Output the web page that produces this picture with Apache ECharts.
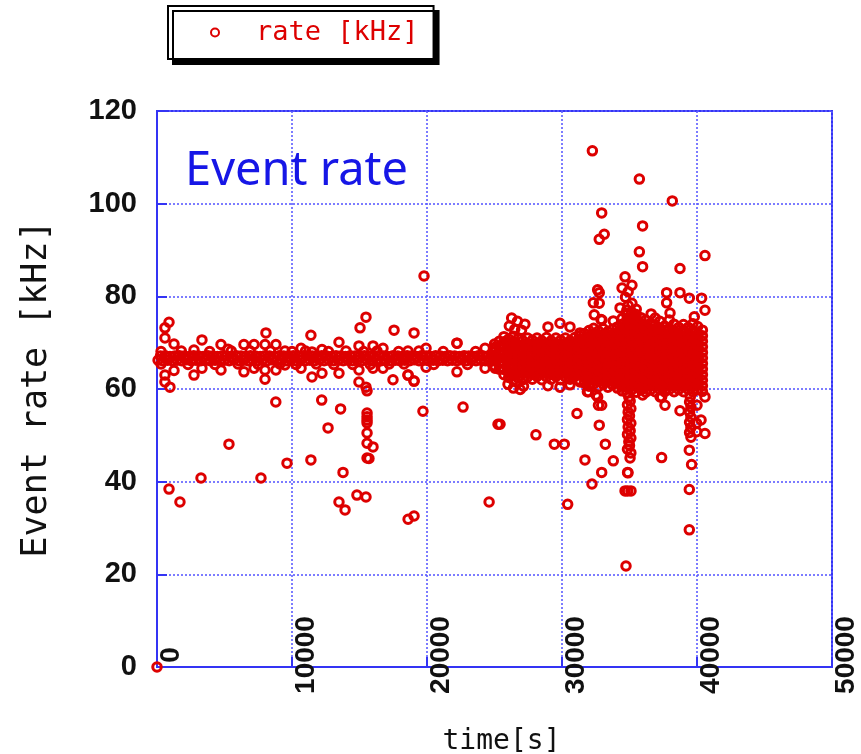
<!DOCTYPE html>
<html>
<head>
<meta charset="utf-8">
<title>Event rate</title>
<script src="https://cdn.jsdelivr.net/npm/echarts@6/dist/echarts.min.js"></script>
<style>
html, body { margin: 0; padding: 0; background: #fff; }
#chart { width: 861px; height: 754px; }
</style>
</head>
<body>
<div id="chart"></div>
<script>
// x = time [s], y = rate [kHz]
var xTicks = [0, 10000, 20000, 30000, 40000, 50000];
var yTicks = [0, 20, 40, 60, 80, 100, 120];

// flat run 0 .. 25000 s
var bandPoints = [
  [80,66.2],[260,67.1],[430,66.1],[610,67.2],[790,66.2],[960,67.0],[1140,66.1],[1310,67.1],[1490,66.2],[1660,67.2],
  [1840,66.1],[2010,67.1],[2190,66.3],[2370,67.0],[2540,66.1],[2720,67.2],[2890,66.2],[3070,67.1],[3240,66.1],[3420,67.0],
  [3600,66.2],[3770,67.2],[3950,66.1],[4120,67.1],[4300,66.2],[4470,67.0],[4650,66.1],[4830,67.2],[5000,66.2],[5180,67.1],
  [5350,66.1],[5530,67.0],[5700,66.3],[5880,67.2],[6060,66.1],[6230,67.1],[6410,66.2],[6580,67.0],[6760,66.1],[6930,67.2],
  [7110,66.2],[7290,67.1],[7460,66.1],[7640,67.0],[7810,66.2],[7990,67.2],[8160,66.1],[8340,67.1],[8520,66.3],[8690,67.0],
  [8870,66.1],[9040,67.2],[9220,66.2],[9390,67.1],[9570,66.1],[9750,67.0],[9920,66.2],[10100,67.2],[10270,66.1],[10450,67.1],
  [10620,66.2],[10800,67.0],[10980,66.1],[11150,67.2],[11330,66.2],[11500,67.1],[11680,66.1],[11850,67.0],[12030,66.3],[12210,67.2],
  [12380,66.1],[12560,67.1],[12730,66.2],[12910,67.0],[13080,66.1],[13260,67.2],[13440,66.2],[13610,67.1],[13790,66.1],[13960,67.0],
  [14140,66.2],[14310,67.2],[14490,66.1],[14670,67.1],[14840,66.2],[15020,67.0],[15190,66.1],[15370,67.2],[15540,66.3],[15720,67.1],
  [15900,66.1],[16070,67.0],[16250,66.2],[16420,67.2],[16600,66.1],[16770,67.1],[16950,66.2],[17130,67.0],[17300,66.1],[17480,67.2],
  [17650,66.2],[17830,67.1],[18000,66.1],[18180,67.0],[18360,66.2],[18530,67.2],[18710,66.1],[18880,67.1],[19060,66.3],[19230,67.0],
  [19410,66.1],[19590,67.2],[19760,66.2],[19940,67.1],[20110,66.1],[20290,67.0],[20460,66.2],[20640,67.2],[20820,66.1],[20990,67.1],
  [21170,66.2],[21340,67.0],[21520,66.1],[21690,67.2],[21870,66.2],[22050,67.1],[22220,66.1],[22400,67.0],[22570,66.3],[22750,67.2],
  [22930,66.1],[23100,67.1],[23280,66.2],[23450,67.0],[23630,66.1],[23800,67.2],[23980,66.2],[24160,67.1],[24330,66.1],[24510,67.0],
  [24680,66.2],[24860,67.2],[25030,66.1],[25210,67.1]
];

// points just off the flat run
var nearBandPoints = [
  [590,73.2],[890,74.4],[590,71.0],[1260,69.7],[590,63.0],[590,61.5],[960,60.4],[1260,64.0],
  [300,65.4],[300,68.1],[1800,68.2],[2300,65.3],[3900,68.1],[4300,65.3],[5500,68.2],[6000,65.4],[6900,68.2],[7500,65.3],
  [8400,68.2],[9100,65.4],[10000,68.1],[10300,65.3],[11000,68.2],[11800,65.4],[12700,68.1],[13100,65.3],[14000,68.2],
  [14500,65.3],[15300,68.1],[15800,65.3],[16300,68.2],[17200,65.4],[17900,68.1],[18300,65.4],[19400,68.2],[20500,65.3],
  [21200,68.1],[23000,65.3],[23600,68.1],
  [2740,68.4],[3330,70.6],[4740,69.6],[5260,68.6],[6440,69.6],[7190,69.6],[8000,69.6],[8810,69.6],[9480,68.2],
  [10670,68.8],[11480,68.0],[12220,68.5],[13480,70.1],[14960,69.3],[16000,69.3],[16740,68.8],[18590,68.2],[19930,68.8],
  [22220,69.9],[24300,68.8],[25040,69.0],[25630,69.6],
  [2740,63.0],[3330,64.5],[4740,64.1],[6440,63.7],[7190,64.5],[8000,64.1],[8000,62.1],[8810,64.1],[9480,65.2],
  [10670,64.5],[11480,62.6],[12220,63.4],[13480,63.4],[14960,64.1],[16000,64.5],[16740,64.5],[18590,63.0],[19040,61.7],
  [19930,64.7],[22220,63.7],[24300,64.5],[25040,64.5]
];

// busy part 25000 .. 40500 s: [time, rates in that column]
var denseColumns = [
  [25000, [65.0, 66.1, 67.3, 68.5, 69.7]],
  [25350, [64.3, 65.5, 66.8, 68.0, 69.1, 70.3]],
  [25700, [63.1, 64.2, 65.5, 66.6, 67.9, 69.0, 70.2, 71.3]],
  [26050, [62.5, 63.7, 64.8, 66.1, 67.2, 68.4, 69.7, 70.8]],
  [26400, [61.9, 63.0, 64.3, 65.4, 66.6, 67.9, 69.0, 70.2, 71.4]],
  [26750, [62.4, 63.6, 64.9, 66.0, 67.2, 68.5, 69.6, 70.9]],
  [27100, [62.0, 63.3, 64.4, 65.7, 66.8, 68.0, 69.3, 70.4]],
  [27450, [62.6, 63.8, 65.1, 66.2, 67.4, 68.7, 69.8, 71.0]],
  [27800, [62.1, 63.2, 64.5, 65.6, 66.9, 68.0, 69.2, 70.5]],
  [28150, [62.7, 63.9, 65.0, 66.3, 67.4, 68.6, 69.9, 71.0]],
  [28500, [62.0, 63.3, 64.4, 65.6, 66.8, 68.1, 69.2, 70.4]],
  [28850, [62.6, 63.7, 65.0, 66.2, 67.5, 68.6, 69.8, 71.1]],
  [29200, [62.1, 63.2, 64.5, 65.7, 66.8, 68.0, 69.3, 70.4]],
  [29550, [62.7, 63.9, 65.0, 66.2, 67.4, 68.7, 69.8, 71.0]],
  [29900, [62.0, 63.3, 64.4, 65.6, 66.9, 68.0, 69.2, 70.5]],
  [30250, [62.6, 63.8, 65.1, 66.3, 67.4, 68.6, 69.9, 71.0]],
  [30600, [62.1, 63.2, 64.5, 65.6, 66.8, 68.1, 69.2, 70.4]],
  [30950, [62.7, 63.9, 65.0, 66.2, 67.5, 68.6, 69.8, 71.1]],
  [31300, [61.9, 63.1, 64.3, 65.5, 66.7, 67.9, 69.1, 70.3, 71.5]],
  [31650, [61.3, 62.5, 63.7, 64.9, 66.1, 67.3, 68.5, 69.7, 70.9, 72.0]],
  [32000, [60.6, 61.8, 63.0, 64.2, 65.4, 66.6, 67.8, 69.0, 70.2, 71.4, 72.6]],
  [32350, [61.1, 62.3, 63.5, 64.7, 65.9, 67.1, 68.3, 69.5, 70.7, 71.9, 73.1]],
  [32700, [60.5, 61.7, 62.9, 64.1, 65.3, 66.5, 67.7, 68.9, 70.1, 71.3, 72.5]],
  [33050, [61.0, 62.2, 63.4, 64.6, 65.8, 67.0, 68.2, 69.4, 70.6, 71.8, 73.0]],
  [33400, [60.4, 61.6, 62.8, 64.0, 65.2, 66.4, 67.6, 68.8, 70.0, 71.2, 72.4]],
  [33750, [60.9, 62.1, 63.3, 64.5, 65.7, 66.9, 68.1, 69.3, 70.5, 71.7, 72.9]],
  [34100, [60.2, 61.4, 62.6, 63.8, 65.0, 66.2, 67.4, 68.6, 69.8, 71.0, 72.2, 73.4]],
  [34450, [59.6, 60.8, 62.0, 63.2, 64.4, 65.6, 66.8, 68.0, 69.2, 70.4, 71.6, 72.8, 74.0, 75.2]],
  [34800, [59.2, 60.4, 61.6, 62.8, 64.0, 65.2, 66.4, 67.6, 68.8, 70.0, 71.2, 72.4, 73.6, 74.8, 76.0, 77.0]],
  [35150, [59.8, 61.0, 62.2, 63.4, 64.6, 65.8, 67.0, 68.2, 69.4, 70.6, 71.8, 73.0, 74.2, 75.4, 76.6]],
  [35500, [59.3, 60.5, 61.7, 62.9, 64.1, 65.3, 66.5, 67.7, 68.9, 70.1, 71.3, 72.5, 73.7, 74.9, 76.1, 77.2]],
  [35850, [59.8, 61.0, 62.2, 63.4, 64.6, 65.8, 67.0, 68.2, 69.4, 70.6, 71.8, 73.0, 74.2, 75.4]],
  [36200, [59.3, 60.5, 61.7, 62.9, 64.1, 65.3, 66.5, 67.7, 68.9, 70.1, 71.3, 72.5, 73.7, 74.9]],
  [36550, [59.8, 61.0, 62.2, 63.4, 64.6, 65.8, 67.0, 68.2, 69.4, 70.6, 71.8, 73.0, 74.2]],
  [36900, [59.4, 60.6, 61.8, 63.0, 64.2, 65.4, 66.6, 67.8, 69.0, 70.2, 71.4, 72.6, 73.8, 75.3]],
  [37250, [59.9, 61.1, 62.3, 63.5, 64.7, 65.9, 67.1, 68.3, 69.5, 70.7, 71.9, 73.1, 74.6]],
  [37600, [59.4, 60.6, 61.8, 63.0, 64.2, 65.4, 66.6, 67.8, 69.0, 70.2, 71.4, 72.6, 73.6]],
  [37950, [59.9, 61.1, 62.3, 63.5, 64.7, 65.9, 67.1, 68.3, 69.5, 70.7, 71.9, 73.1, 74.9]],
  [38300, [59.4, 60.6, 61.8, 63.0, 64.2, 65.4, 66.6, 67.8, 69.0, 70.2, 71.4, 72.6, 74.0]],
  [38650, [59.9, 61.1, 62.3, 63.5, 64.7, 65.9, 67.1, 68.3, 69.5, 70.7, 71.9, 73.3]],
  [39000, [59.4, 60.6, 61.8, 63.0, 64.2, 65.4, 66.6, 67.8, 69.0, 70.2, 71.4, 72.6, 73.9]],
  [39350, [59.9, 61.1, 62.3, 63.5, 64.7, 65.9, 67.1, 68.3, 69.5, 70.7, 71.9, 73.3]],
  [39700, [59.4, 60.6, 61.8, 63.0, 64.2, 65.4, 66.6, 67.8, 69.0, 70.2, 71.4, 72.6, 74.1]],
  [40050, [59.9, 61.1, 62.3, 63.5, 64.7, 65.9, 67.1, 68.3, 69.5, 70.7, 71.9, 73.5]],
  [40400, [59.5, 60.7, 61.9, 63.1, 64.3, 65.5, 66.7, 67.9, 69.1, 70.3, 71.5, 72.7]]
];

// drop-outs and spikes
var outlierPoints = [
  [0,0],
  [890,38.4],[1700,35.6],[3260,40.8],[5330,48.1],[7700,40.8],[8800,57.2],[9630,44.0],[11400,44.7],[12200,57.6],
  [12670,51.6],[13600,55.7],[13780,42.0],[13480,35.6],[13930,33.9],[14810,37.1],[15480,36.7],
  [15560,54.8],[15560,54.0],[15560,53.3],[15560,52.7],[15560,50.5],[15560,48.3],[16000,47.5],[15560,45.1],[15700,45.0],
  [18600,31.9],[19040,32.6],[19700,55.2],[22670,56.1],[24600,35.6],[25260,52.4],[28070,50.1],
  [8070,72.1],[11400,71.6],[15040,73.2],[15480,75.5],[17560,72.7],[19040,72.1],[22220,69.9],
  [14960,61.5],[15480,60.4],[15560,59.6],[17480,62.0],[18600,63.0],[19040,61.7],[19780,84.4],
  [32250,111.4],[35730,105.3],[38170,100.6],[32940,98.0],[35970,95.2],[32760,92.3],[33130,93.4],[35730,89.6],
  [40590,88.8],[35970,86.4],[38740,86.0],[34670,84.2],[35180,82.4],[34450,81.8],[34900,81.0],[34700,79.8],
  [35180,78.5],[34300,77.5],[34900,78.0],[32640,81.4],[32760,80.8],[32320,78.6],[37750,80.8],[38740,80.8],
  [39430,79.6],[40340,79.6],[40590,77.0],[37750,78.6],[32760,78.5],[32390,76.0],[32890,75.0],[33800,74.7],
  [32960,74.9],[36600,76.2],[38000,76.4],[39800,75.6],
  [26270,75.3],[26700,74.6],[27250,74.0],[26500,72.9],[27000,72.7],[26100,73.6],[28960,73.4],[29850,74.2],
  [30590,73.4],[31330,72.1],[32070,71.4],
  [26000,61.0],[26400,60.2],[26900,59.9],[26600,61.5],[27150,60.6],[28960,60.7],[29850,60.4],[30590,60.9],
  [31330,61.5],[31880,59.4],[32520,58.7],[32700,56.5],
  [34950,58.2],[35050,57.4],[34850,56.6],[35100,55.8],[34900,55.0],[35000,54.2],[34850,53.4],[35100,52.6],
  [34900,51.8],[35050,51.0],[34850,50.2],[35100,49.4],[34950,48.6],[35000,47.8],[34850,47.0],[35100,46.2],
  [35040,45.1],[34890,41.9],[34670,38.0],[34860,38.0],[35110,38.0],[34740,21.8],
  [39500,58.3],[39450,57.2],[39550,56.1],[39450,55.0],[39550,53.9],[39450,52.8],[39550,51.7],[39450,50.6],
  [39550,49.6],[39430,46.8],[39600,43.7],[39430,38.3],[39430,29.6],
  [37380,58.3],[37630,56.5],[38740,55.3],[31110,54.7],[25410,52.4],[29430,48.1],[30170,48.1],[32760,52.2],
  [33210,48.1],[31700,44.7],[33800,44.5],[32940,42.0],[37380,45.2],[32220,39.5],[34860,42.0],[30420,35.1],
  [40300,53.3],[40590,50.4],[39970,50.8],[39970,52.6],[40000,56.5],[40590,58.3],[37270,58.3],[32940,56.5],
  [31960,59.4],[32640,58.3],[35970,58.7]
];

var allPoints = bandPoints.concat(nearBandPoints, outlierPoints);
denseColumns.forEach(function (col) {
  col[1].forEach(function (r) {
    allPoints.push([col[0], r]);
  });
});

var axisBlue = '#3434f4';
var chart = echarts.init(document.getElementById('chart'));
var option = {
  animation: false,
  backgroundColor: '#fff',
  title: {
    text: 'Event rate',
    left: 185,
    top: 148,
    padding: 0,
    textStyle: {
      fontFamily: 'Noto Sans',
      fontSize: 47,
      fontWeight: 'normal',
      color: '#1616e6'
    }
  },
  legend: {
    data: ['rate [kHz]'],
    left: 168,
    top: 6,
    padding: [13, 15, 13, 42],
    itemWidth: 72,
    itemHeight: 8,
    backgroundColor: '#fff',
    borderColor: '#000',
    borderWidth: 2,
    borderRadius: 0,
    shadowColor: '#000',
    shadowBlur: 0,
    shadowOffsetX: 5,
    shadowOffsetY: 5,
    textStyle: {
      fontFamily: 'DejaVu Sans Mono',
      fontSize: 27,
      color: '#dd0000'
    }
  },
  grid: {
    left: 157,
    top: 111,
    right: 29,
    bottom: 87,
    outerBoundsMode: 'none',
    show: true,
    borderColor: axisBlue,
    borderWidth: 2
  },
  xAxis: {
    type: 'value',
    min: xTicks[0],
    max: xTicks[xTicks.length - 1],
    interval: 10000,
    name: 'time[s]',
    nameLocation: 'middle',
    nameGap: 61,
    nameTextStyle: {
      fontFamily: 'DejaVu Sans Mono',
      fontSize: 28,
      color: '#111',
      verticalAlign: 'top',
      padding: [0, 0, 0, 14]
    },
    axisLine: { lineStyle: { color: axisBlue, width: 2 } },
    axisTick: { inside: true, length: 10, lineStyle: { color: axisBlue, width: 2 } },
    splitLine: { lineStyle: { color: '#5c5cff', type: [2, 2], width: 1.6 } },
    axisLabel: {
      rotate: 90,
      margin: -12,
      align: 'center',
      verticalAlign: 'top',
      fontFamily: "'Liberation Sans', sans-serif",
      fontSize: 28,
      fontWeight: 'bold',
      color: '#111',
      formatter: function (v) { return String(v); }
    }
  },
  yAxis: {
    type: 'value',
    min: yTicks[0],
    max: yTicks[yTicks.length - 1],
    interval: 20,
    name: 'Event rate [kHz]',
    nameLocation: 'middle',
    nameRotate: 90,
    nameGap: 103,
    nameTextStyle: {
      fontFamily: 'DejaVu Sans Mono',
      fontSize: 35,
      color: '#111'
    },
    axisLine: { lineStyle: { color: axisBlue, width: 2 } },
    axisTick: { inside: true, length: 10, lineStyle: { color: axisBlue, width: 2 } },
    splitLine: { lineStyle: { color: '#5c5cff', type: [2, 2], width: 1.6 } },
    axisLabel: {
      margin: 20,
      fontFamily: "'Liberation Sans', sans-serif",
      fontSize: 29,
      fontWeight: 'bold',
      color: '#111'
    }
  },
  series: [{
    name: 'rate [kHz]',
    type: 'scatter',
    symbol: 'circle',
    symbolSize: 8.5,
    data: allPoints,
    itemStyle: {
      color: 'rgba(0,0,0,0)',
      borderColor: '#dd0000',
      borderWidth: 3,
      opacity: 1
    },
    emphasis: { disabled: true }
  }]
};
chart.setOption(option);
</script>
</body>
</html>
